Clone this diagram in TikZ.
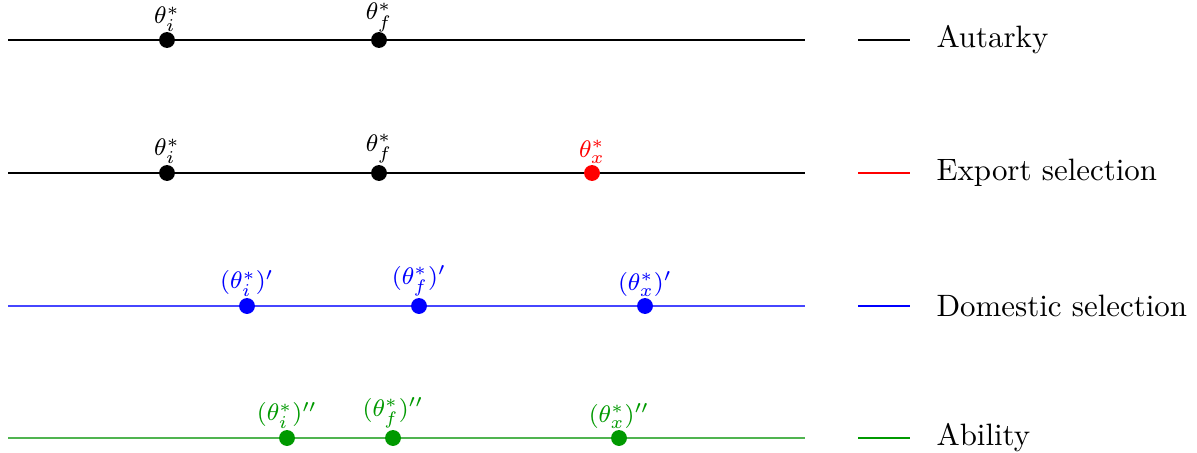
\documentclass[tikz,border=0pt]{standalone}
\usepackage{amsmath}
\definecolor{dotgreen}{RGB}{0,153,0}
\definecolor{linegreen}{RGB}{80,180,80}
\definecolor{lineblue}{RGB}{70,70,255}
\tikzset{
  axisline/.style={line width=0.35pt},
  legline/.style={line width=0.6pt},
  dotnode/.style={circle,fill,inner sep=0pt,minimum size=5.3pt},
  lab/.style={font=\footnotesize,anchor=south,inner sep=0.5pt},
  legtext/.style={anchor=west,inner sep=0pt,font=\fontsize{10.3}{12}\selectfont}
}
\begin{document}
\begin{tikzpicture}[x=0.3333pt,y=-0.3333pt]
\useasboundingbox (0,0) rectangle (1197,453);
% row 1
\coordinate (a1) at (8,40); \coordinate (b1) at (805,40);
\draw[axisline,black] (a1) -- (b1);
\node[dotnode,black] (r1i) at (167,40) {};
\node[dotnode,black] (r1f) at (379,40) {};
\node[lab,black] at ([yshift=-0.8pt]r1i.north) {$\theta_i^*$};
\node[lab,black] at ([yshift=-0.8pt]r1f.north) {$\theta_f^*$};
% row 2
\coordinate (a2) at (8,173); \coordinate (b2) at (805,173);
\draw[axisline,black] (a2) -- (b2);
\node[dotnode,black] (r2i) at (167,173) {};
\node[dotnode,black] (r2f) at (379,173) {};
\node[dotnode,red] (r2x) at (592,173) {};
\node[lab,black] at ([yshift=-0.3pt]r2i.north) {$\theta_i^*$};
\node[lab,black] at ([yshift=-0.3pt]r2f.north) {$\theta_f^*$};
\node[lab,red] at ([yshift=-0.3pt]r2x.north) {$\theta_x^*$};
% row 3
\coordinate (a3) at (8,306); \coordinate (b3) at (805,306);
\draw[axisline,lineblue] (a3) -- (b3);
\node[dotnode,blue] (r3i) at (247,306) {};
\node[dotnode,blue] (r3f) at (419,306) {};
\node[dotnode,blue] (r3x) at (645,306) {};
\node[lab,blue] at ([yshift=-0.3pt]r3i.north) {$(\theta_i^*)'$};
\node[lab,blue] at ([yshift=-0.3pt]r3f.north) {$(\theta_f^*)'$};
\node[lab,blue] at ([yshift=-0.3pt]r3x.north) {$(\theta_x^*)'$};
% row 4
\coordinate (a4) at (8,438); \coordinate (b4) at (805,438);
\draw[axisline,linegreen] (a4) -- (b4);
\node[dotnode,dotgreen] (r4i) at (287,438) {};
\node[dotnode,dotgreen] (r4f) at (393,438) {};
\node[dotnode,dotgreen] (r4x) at (619,438) {};
\node[lab,dotgreen] at ([yshift=-0.3pt]r4i.north) {$(\theta_i^*)''$};
\node[lab,dotgreen] at ([yshift=-0.3pt]r4f.north) {$(\theta_f^*)''$};
\node[lab,dotgreen] at ([yshift=-0.3pt]r4x.north) {$(\theta_x^*)''$};
% legend
\coordinate (l1a) at (858,40); \coordinate (l1b) at (910,40);
\draw[legline,black] (l1a) -- (l1b);
\node[legtext] (t1) at (936,40) {Autarky};
\coordinate (l2a) at (858,173); \coordinate (l2b) at (910,173);
\draw[legline,red] (l2a) -- (l2b);
\node[legtext] (t2) at (936,173) {Export selection};
\coordinate (l3a) at (858,306); \coordinate (l3b) at (910,306);
\draw[legline,blue] (l3a) -- (l3b);
\node[legtext] (t3) at (936,306) {Domestic selection};
\coordinate (l4a) at (858,438); \coordinate (l4b) at (910,438);
\draw[legline,dotgreen] (l4a) -- (l4b);
\node[legtext] (t4) at (936,438) {Ability};
\end{tikzpicture}
\end{document}
